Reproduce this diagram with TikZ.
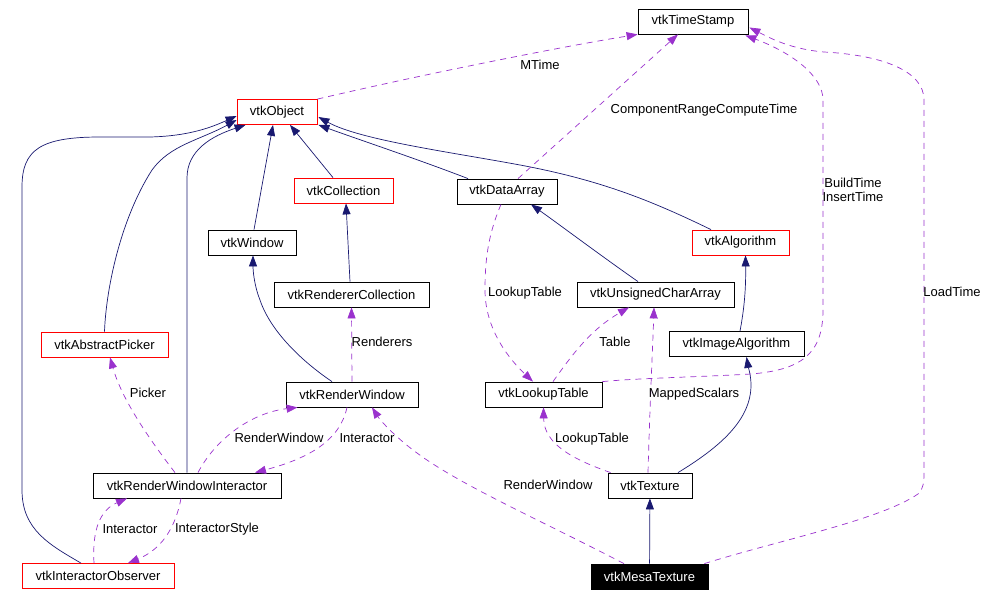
\documentclass[tikz,border=0pt]{standalone}
\usepackage{fontspec}
\setmainfont{Liberation Sans}
\usetikzlibrary{arrows.meta,calc}
\definecolor{azulheranca}{RGB}{25,25,112}
\definecolor{roxouso}{RGB}{154,50,205}

\begin{document}
\begin{tikzpicture}[x=1pt,y=-1pt,
    classe/.style={draw=black, fill=white, line width=0.8pt, minimum height=25pt, inner sep=0pt, font=\fontsize{13}{14}\selectfont},
    classevermelha/.style={classe, draw=red},
    rotulo/.style={inner sep=0pt, align=center, font=\fontsize{13}{14}\selectfont},
    heranca/.style={draw=azulheranca, line width=0.7pt, -{Triangle[length=11pt,width=8pt]}},
    uso/.style={draw=roxouso, line width=0.7pt, dash pattern=on 6pt off 5pt, -{Triangle[length=11pt,width=8pt]}}]
    \useasboundingbox (0,0) rectangle (991,596);
    % classes
    \node[classe, minimum width=110pt] (TS) at (693,21.5) {vtkTimeStamp};
    \node[classevermelha, minimum width=80pt] (Obj) at (277,112) {vtkObject};
    \node[classevermelha, minimum width=99pt] (Coll) at (343.5,190.5) {vtkCollection};
    \node[classe, minimum width=100pt] (DA) at (507,191.5) {vtkDataArray};
    \node[classe, minimum width=88pt] (Win) at (252,242.5) {vtkWindow};
    \node[classevermelha, minimum width=97pt] (Alg) at (740.5,242.5) {vtkAlgorithm};
    \node[classe, minimum width=155pt] (RC) at (351.5,294.5) {vtkRendererCollection};
    \node[classe, minimum width=157pt] (UCA) at (655.5,294.5) {vtkUnsignedCharArray};
    \node[classevermelha, minimum width=127pt] (AP) at (104.5,344.5) {vtkAbstractPicker};
    \node[classe, minimum width=135pt] (IA) at (736.5,344) {vtkImageAlgorithm};
    \node[classe, minimum width=132pt] (RW) at (352,394.5) {vtkRenderWindow};
    \node[classe, minimum width=117pt] (LUT) at (543.5,394.5) {vtkLookupTable};
    \node[classe, minimum width=188pt] (RWI) at (187,485.5) {vtkRenderWindowInteractor};
    \node[classe, minimum width=84pt] (Tex) at (650,485.5) {vtkTexture};
    \node[classevermelha, minimum width=152pt] (IO) at (98,576) {vtkInteractorObserver};
    \node[classe, minimum width=117pt, fill=black, text=white] (MT) at (649.5,576.5) {vtkMesaTexture};
    % heranca
    \draw[heranca] ($(IO.north)+(-17,0)$) .. controls (50,545) and (22,530) .. (22,490) -- (22,187)
        .. controls (22,150) and (40,137) .. (100,137) -- (150,137) .. controls (190,136) and (212,127) .. ($(Obj.west)+(0,4)$);
    \draw[heranca] (AP.north) .. controls (106,290) and (120,220) .. (152,170) .. controls (170,145) and (200,140) .. ($(Obj.west)+(0,8)$);
    \draw[heranca] (RWI.north) -- (187,178) .. controls (187,150) and (212,136) .. ($(Obj.south west)+(9,0)$);
    \draw[heranca] ($(Win.north)+(2,0)$) -- ($(Obj.south)+(-4,0)$);
    \draw[heranca] ($(Coll.north)+(-10.5,0)$) -- ($(Obj.south)+(13,0)$);
    \draw[heranca] ($(DA.north)+(-39,0)$) .. controls (420,160) and (360,140) .. ($(Obj.south east)+(1,0)$);
    \draw[heranca] ($(Alg.north)+(-29.5,0)$) .. controls (650,200) and (600,180) .. (520,165) .. controls (450,152) and (360,140) .. ($(Obj.east)+(1,5)$);
    \draw[heranca] ($(RC.north)+(-1.5,0)$) -- ($(Coll.south)+(2.5,0)$);
    \draw[heranca] ($(RW.north)+(-20,0)$) .. controls (300,360) and (270,330) .. (260,300) .. controls (254,285) and (253,270) .. ($(Win.south)+(1,0)$);
    \draw[heranca] ($(UCA.north)+(-17.5,0)$) .. controls (600,255) and (560,225) .. ($(DA.south)+(24,0)$);
    \draw[heranca] ($(IA.north)+(3.5,0)$) .. controls (744,310) and (746,290) .. ($(Alg.south)+(5,0)$);
    \draw[heranca] ($(Tex.north)+(28,0)$) .. controls (720,447) and (751,420) .. (751,385) .. controls (751,375) and (748,366) .. ($(IA.south)+(10,0)$);
    \draw[heranca] (MT) -- (Tex);
    % uso
    \draw[uso] (Obj.north east) .. controls (420,75) and (560,47) .. (TS.south west);
    \draw[uso] ($(DA.north)+(11,0)$) -- ($(TS.south)+(-15,0)$);
    \draw[uso] (LUT.north east) .. controls (640,378) and (700,377) .. (751,374) .. controls (800,370) and (823,355) .. (823,310) -- (823,100)
        .. controls (823,75) and (790,52) .. ($(TS.south east)+(-3,1)$);
    \draw[uso] ($(MT.north east)+(-4,0)$) .. controls (780,540) and (880,520) .. (918,494) .. controls (924,488) and (924,482) .. (924,470) -- (924,100)
        .. controls (924,70) and (880,55) .. (824,52) .. controls (790,49) and (770,38) .. ($(TS.east)+(1,6)$);
    \draw[uso] ($(DA.south)+(-6,0)$) .. controls (488,235) and (485,260) .. (485,290) .. controls (485,330) and (510,360) .. ($(LUT.north)+(-10.5,0)$);
    \draw[uso] ($(LUT.north)+(9.5,0)$) .. controls (572,355) and (590,330) .. ($(UCA.south)+(-26.5,0)$);
    \draw[uso] ($(Tex.north)+(-2,0)$) .. controls (650,400) and (653,340) .. ($(UCA.south)+(-1.5,0)$);
    \draw[uso] ($(Tex.north west)+(3,0)$) .. controls (575,460) and (544,445) .. (LUT.south);
    \draw[uso] ($(MT.north)+(-25.5,0)$) .. controls (540,520) and (460,485) .. (417,453) .. controls (395,437) and (380,420) .. ($(RW.south)+(20,0)$);
    \draw[uso] (RW.north) -- (RC.south);
    \draw[uso] ($(RWI.north)+(11,0)$) .. controls (215,440) and (250,413) .. ($(RW.south west)+(12,0)$);
    \draw[uso] ($(RW.south)+(-5,0)$) .. controls (340,440) and (310,458) .. ($(RWI.north)+(68,0)$);
    \draw[uso] ($(RWI.north)+(-12,0)$) .. controls (150,440) and (122,400) .. ($(AP.south)+(5.5,0)$);
    \draw[uso] ($(IO.north)+(-4,0)$) .. controls (92,530) and (100,510) .. ($(RWI.south)+(-60,0)$);
    \draw[uso] ($(RWI.south)+(-6,0)$) .. controls (175,530) and (160,550) .. ($(IO.north)+(30,0)$);
    % rotulos
    \node[rotulo] (lMTime) at (540,65) {MTime};
    \node[rotulo] (lCRCT) at (704,110) {ComponentRangeComputeTime};
    \node[rotulo] (lBuild) at (853,190) {BuildTime\\InsertTime};
    \node[rotulo] (lLoad) at (952,292) {LoadTime};
    \node[rotulo] (lLUT) at (525,293) {LookupTable};
    \node[rotulo] (lTable) at (615,342) {Table};
    \node[rotulo] (lMapped) at (694,394) {MappedScalars};
    \node[rotulo] (lLUT2) at (592,439) {LookupTable};
    \node[rotulo] (lRW2) at (548,485) {RenderWindow};
    \node[rotulo] (lRend) at (382,342) {Renderers};
    \node[rotulo] (lRW) at (279,438) {RenderWindow};
    \node[rotulo] (lInter) at (367,438) {Interactor};
    \node[rotulo] (lPicker) at (148,393) {Picker};
    \node[rotulo] (lInter2) at (130,529) {Interactor};
    \node[rotulo] (lStyle) at (217,529) {InteractorStyle};
  \end{tikzpicture}
\end{document}
